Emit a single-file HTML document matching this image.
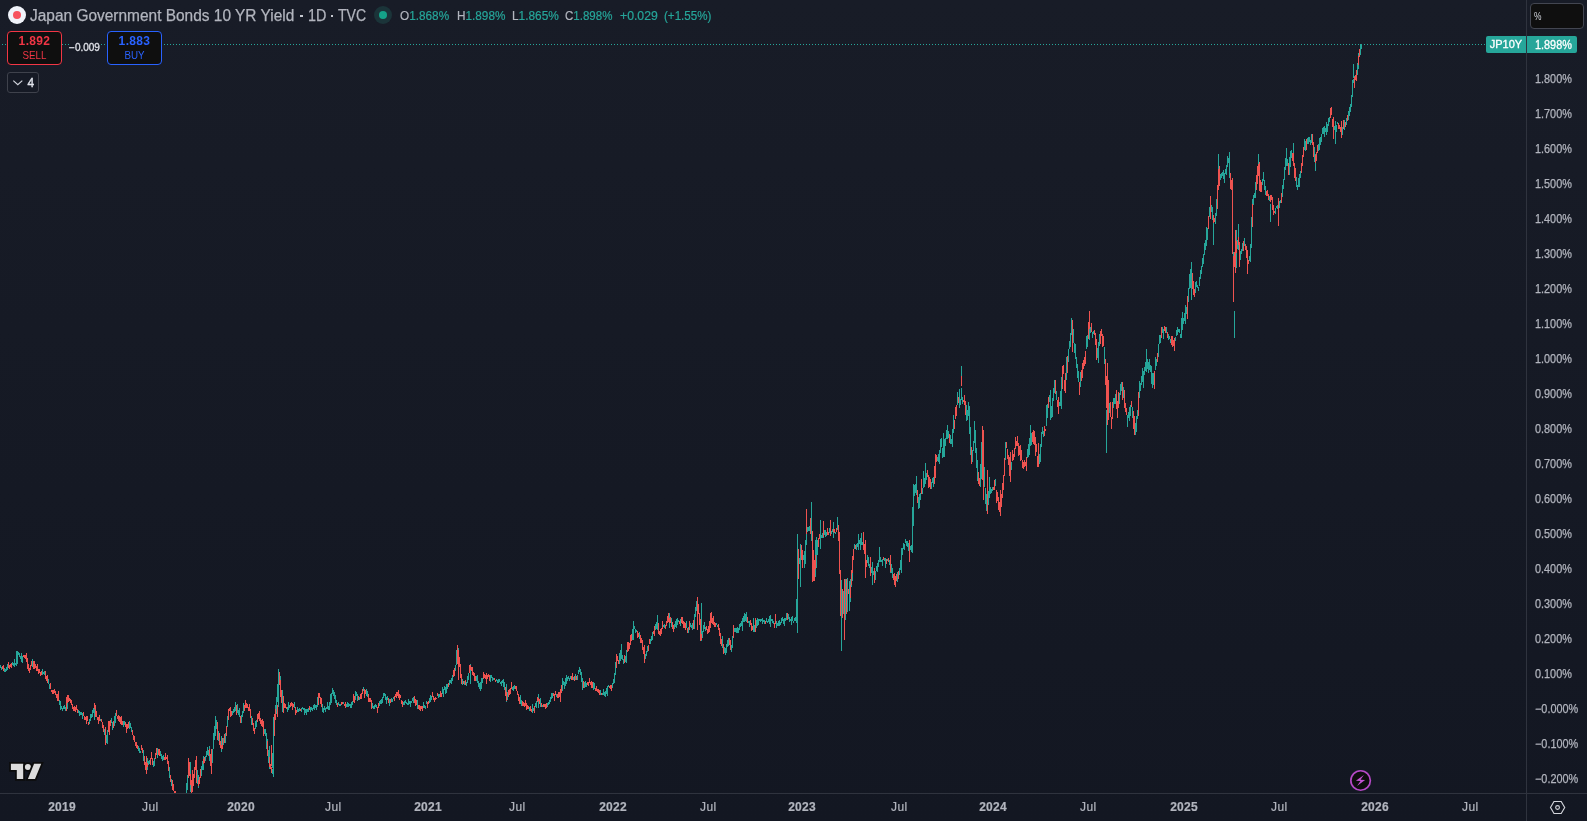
<!DOCTYPE html>
<html><head><meta charset="utf-8"><title>JP10Y</title>
<style>
body{-webkit-font-smoothing:antialiased}
*{box-sizing:border-box;margin:0;padding:0}
html,body{width:1587px;height:821px;overflow:hidden;background:#131722}
body{font-family:"Liberation Sans",sans-serif;color:#b2b5be;position:relative;
 background:linear-gradient(180deg,#181c27 0px,#131722 821px)}
.abs{position:absolute}
.ui{position:absolute;left:0;top:0;width:1587px;height:821px;will-change:transform}
.chart{position:absolute;left:0;top:0}
.vaxis{position:absolute;left:1526px;top:0;width:1px;height:821px;background:#2f333e}
.haxis{position:absolute;left:0;top:793px;width:1587px;height:1px;background:#2f333e}
.dot{position:absolute;left:-1px;top:44px;width:1487px;height:1px;
 background:repeating-linear-gradient(90deg,#26a69a 0 1px,transparent 1px 3px)}
.pl{-webkit-text-stroke:.25px #b2b5be;position:absolute;left:1535px;width:60px;font-size:12px;line-height:14px;color:#b2b5be;white-space:nowrap;transform:scaleX(.905);transform-origin:0 50%}
.tl{-webkit-text-stroke:.2px #b2b5be;position:absolute;top:800px;width:60px;margin-left:-30px;text-align:center;font-size:12px;line-height:14px;color:#b2b5be;white-space:nowrap}
.tl{letter-spacing:.35px}
.tl.b{font-weight:bold;letter-spacing:.25px}
.title{-webkit-text-stroke:.25px #b2b5be;position:absolute;left:30px;top:6.2px;font-size:15.6px;line-height:20px;color:#b2b5be;white-space:nowrap}
.title span{position:absolute;top:0;transform-origin:0 50%}
.title i{position:absolute;top:8.5px;width:2.7px;height:2.7px;background:#c5c8d0}
.ohlc{-webkit-text-stroke:.2px;position:absolute;left:400px;top:8px;font-size:12.5px;line-height:16px;color:#b2b5be;white-space:nowrap}
.ohlc i{font-style:normal;color:#26a69a}
.ohlc .g{position:absolute;top:0;transform-origin:0 50%}
.flag{position:absolute;left:8px;top:6px;width:18px;height:18px;border-radius:50%;background:#f0f3fa}
.flag::after{content:"";position:absolute;left:5px;top:5px;width:8px;height:8px;border-radius:50%;background:#f7525f}
.status{position:absolute;left:374px;top:6px;width:18px;height:18px;border-radius:50%;background:#1b3439}
.status::after{content:"";position:absolute;left:5px;top:5px;width:8px;height:8px;border-radius:50%;background:#14a288}
.btn{position:absolute;top:31px;height:34px;width:55px;border-radius:4px;background:#0f0f0f;text-align:center;font-size:11px;line-height:13px;padding-top:3px}
.btn b{display:block;font-size:12px;line-height:13px;letter-spacing:.35px}
.btn span{display:block;transform:scaleX(.89);margin-top:.5px}
.sell{left:7px;border:1px solid #f23645;color:#f23645}
.buy{left:107px;border:1px solid #2962ff;color:#2962ff}
.spread{position:absolute;left:69px;top:42px;width:31px;text-align:center;font-size:10px;line-height:12px;color:#dfe1e8;background:#171b26;-webkit-text-stroke:.3px #dfe1e8}
.coll{position:absolute;left:7px;top:72px;width:32px;height:21px;border:1px solid #3f424c;border-radius:3px;background:#161a25;color:#e0e3eb;font-size:12px;line-height:21px;padding-left:19.5px;-webkit-text-stroke:.35px #e0e3eb}
.unit{position:absolute;left:1530px;top:3px;width:54px;height:26px;border:1px solid #434651;border-radius:4px;background:#0f0f0f;color:#d1d4dc;font-size:10.5px;line-height:24px;padding-left:3px}
.unit span{display:inline-block;transform:scaleX(.8);transform-origin:0 50%}
.tag{-webkit-text-stroke:.3px #fff;position:absolute;top:36px;height:17px;background:#26a69a;color:#fff;font-size:12px;line-height:17px;text-align:center;white-space:nowrap}
.tag.a{left:1486px;width:40px;border-radius:2px 0 0 2px;font-size:11px}
.tag.b{left:1527px;width:50px;border-radius:0 2px 2px 0;text-align:left}
.tag.b span{position:absolute;left:8px;top:.5px;transform:scaleX(.905);transform-origin:0 50%}
</style></head><body>
<svg class="chart" width="1526" height="793" viewBox="0 0 1526 793" fill="none" stroke-width="1" shape-rendering="crispEdges"><path stroke="#26a69a" d="M0.5 665V668M1.5 667V670M4.5 668V672M5.5 669V672M6.5 667V671M7.5 664V670M12.5 662V665M13.5 663V666M14.5 659V667M15.5 663V665M16.5 651V666M17.5 653V658M18.5 652V655M19.5 653V657M20.5 656V659M21.5 653V662M22.5 656V663M32.5 659V667M42.5 669V675M43.5 672V674M44.5 671V675M48.5 679V684M49.5 684V689M59.5 700V705M60.5 701V710M61.5 706V709M62.5 708V711M63.5 706V709M64.5 705V709M65.5 707V711M78.5 710V713M79.5 711V716M80.5 712V715M81.5 712V715M82.5 713V719M89.5 719V724M90.5 714V721M91.5 714V718M92.5 710V717M93.5 708V713M100.5 719V721M104.5 729V735M105.5 731V740M106.5 735V743M107.5 730V736M111.5 718V723M112.5 722V730M114.5 716V726M115.5 713V723M123.5 721V727M124.5 721V725M129.5 721V729M130.5 723V728M131.5 727V732M138.5 746V751M139.5 748V753M140.5 751V753M143.5 750V761M148.5 761V765M149.5 760V764M153.5 761V767M154.5 758V766M157.5 748V758M160.5 751V756M161.5 754V759M162.5 756V761M163.5 755V760M169.5 767V778M171.5 779V786M186.5 783V793M187.5 775V790M188.5 762V776M192.5 782V792M197.5 770V784M201.5 766V776M202.5 761V770M205.5 756V761M206.5 751V757M207.5 747V755M208.5 750V756M211.5 762V771M212.5 749V763M213.5 733V749M214.5 726V740M215.5 717V726M216.5 720V729M217.5 725V736M218.5 731V741M223.5 738V745M225.5 733V743M227.5 716V727M232.5 711V715M233.5 709V713M234.5 707V712M235.5 702V711M237.5 704V713M238.5 710V715M239.5 708V717M241.5 715V723M242.5 711V717M243.5 703V713M251.5 716V725M255.5 721V729M256.5 720V727M264.5 729V734M265.5 729V736M266.5 733V741M267.5 739V752M268.5 750V763M272.5 769V774M273.5 719V776M276.5 697V714M277.5 684V702M278.5 671V687M282.5 694V703M287.5 707V712M288.5 702V710M289.5 705V708M294.5 702V708M297.5 707V712M298.5 709V712M299.5 708V711M301.5 708V712M302.5 707V709M303.5 708V710M304.5 708V715M305.5 709V713M306.5 709V715M307.5 709V712M308.5 708V712M310.5 707V712M311.5 707V710M312.5 708V711M313.5 705V709M314.5 704V710M315.5 705V708M316.5 705V710M317.5 697V707M322.5 704V712M323.5 708V713M324.5 706V710M325.5 708V712M326.5 707V709M327.5 702V709M328.5 706V710M329.5 702V710M330.5 694V705M331.5 693V703M332.5 688V694M333.5 690V696M334.5 692V699M335.5 695V703M336.5 700V705M338.5 702V705M339.5 704V706M340.5 704V706M343.5 702V704M346.5 704V707M347.5 702V707M348.5 703V707M349.5 704V706M350.5 704V708M351.5 702V708M352.5 701V705M355.5 691V700M356.5 692V696M357.5 694V701M359.5 697V700M363.5 687V691M366.5 689V696M367.5 691V697M372.5 703V708M373.5 706V709M374.5 705V709M375.5 704V707M376.5 705V708M379.5 701V706M380.5 700V704M381.5 699V704M382.5 697V703M383.5 693V698M384.5 693V696M385.5 694V700M386.5 697V704M387.5 696V700M389.5 699V706M391.5 698V702M392.5 699V702M393.5 697V699M403.5 702V705M404.5 701V705M405.5 700V703M406.5 702V704M407.5 703V705M408.5 699V705M409.5 701V704M410.5 701V707M411.5 701V703M412.5 698V701M413.5 697V703M417.5 700V709M423.5 702V708M424.5 705V708M425.5 706V709M426.5 701V704M429.5 698V703M430.5 695V702M431.5 696V700M438.5 694V698M439.5 694V697M442.5 687V694M443.5 689V697M444.5 686V690M445.5 687V694M446.5 684V693M447.5 684V689M449.5 680V685M450.5 680V683M451.5 678V684M452.5 675V681M455.5 665V671M456.5 650V665M457.5 649V658M458.5 648V660M462.5 679V685M464.5 681V685M466.5 682V686M467.5 676V683M468.5 673V680M476.5 676V681M477.5 675V683M478.5 681V687M479.5 683V689M480.5 682V691M481.5 678V689M482.5 678V683M490.5 675V682M491.5 675V678M492.5 677V681M493.5 678V680M496.5 679V681M497.5 680V683M498.5 679V683M499.5 679V682M500.5 682V684M501.5 681V686M502.5 680V683M503.5 679V687M504.5 682V690M507.5 692V700M512.5 687V690M513.5 686V691M514.5 685V689M520.5 695V704M521.5 700V706M529.5 707V711M532.5 704V713M533.5 708V711M535.5 703V707M536.5 701V708M540.5 698V707M542.5 705V707M547.5 703V707M548.5 702V705M549.5 700V704M550.5 697V702M551.5 693V699M552.5 693V698M556.5 694V697M562.5 678V691M563.5 681V685M564.5 682V689M565.5 678V686M566.5 675V684M567.5 677V681M568.5 676V679M569.5 678V681M570.5 676V679M573.5 677V680M575.5 674V680M577.5 675V680M578.5 670V674M579.5 667V672M580.5 669V675M581.5 672V682M582.5 678V690M584.5 682V688M585.5 681V687M586.5 683V687M593.5 682V690M594.5 683V689M600.5 690V695M602.5 693V695M603.5 689V695M604.5 692V696M605.5 691V697M606.5 688V694M607.5 686V696M608.5 685V687M612.5 683V688M613.5 679V684M614.5 673V683M615.5 662V675M619.5 653V664M620.5 650V661M621.5 644V659M622.5 655V660M623.5 659V664M625.5 656V662M626.5 650V663M632.5 629V640M633.5 626V630M634.5 626V629M635.5 629V633M636.5 630V632M639.5 632V639M645.5 654V659M646.5 651V656M647.5 646V652M650.5 639V644M651.5 636V641M652.5 632V640M655.5 624V630M656.5 622V629M657.5 623V628M663.5 625V627M664.5 624V628M671.5 618V627M674.5 624V629M675.5 621V627M676.5 619V628M677.5 618V625M678.5 620V622M680.5 619V626M686.5 621V628M688.5 627V633M690.5 623V627M691.5 625V628M692.5 623V630M694.5 614V629M695.5 607V617M696.5 601V611M697.5 600V606M702.5 631V638M703.5 625V632M704.5 622V629M705.5 627V631M716.5 623V625M717.5 625V627M722.5 636V648M724.5 647V653M725.5 648V655M726.5 644V653M727.5 640V647M728.5 638V646M731.5 645V652M732.5 636V648M734.5 628V632M735.5 628V632M736.5 628V633M737.5 627V633M738.5 628V633M739.5 624V630M740.5 623V627M741.5 621V626M742.5 618V631M743.5 616V622M744.5 613V622M745.5 614V621M746.5 612V622M748.5 621V623M749.5 621V627M753.5 618V632M754.5 625V632M755.5 626V629M756.5 620V628M757.5 618V626M758.5 619V625M759.5 619V621M760.5 619V622M761.5 619V621M762.5 618V624M763.5 620V622M764.5 620V624M766.5 618V622M767.5 621V623M768.5 619V622M769.5 616V624M770.5 615V627M771.5 619V621M772.5 619V623M773.5 621V624M776.5 621V628M777.5 623V626M778.5 621V626M779.5 620V626M780.5 622V625M781.5 618V623M782.5 617V621M783.5 619V624M784.5 618V626M785.5 618V621M786.5 613V620M788.5 614V619M789.5 617V622M790.5 619V621M791.5 617V625M792.5 616V621M793.5 621V623M794.5 618V621M795.5 617V621M796.5 599V623M797.5 568V599M798.5 559V571M799.5 558V564M800.5 551V561M801.5 552V559M802.5 553V558M803.5 555V560M804.5 551V559M805.5 540V557M806.5 526V545M807.5 527V532M808.5 527V531M809.5 526V531M811.5 523V541M812.5 536V565M816.5 545V560M817.5 540V555M820.5 534V537M821.5 535V538M822.5 533V538M823.5 531V538M824.5 530V535M825.5 530V537M826.5 532V536M829.5 528V533M830.5 528V535M831.5 531V534M832.5 529V532M835.5 532V534M837.5 517V530M841.5 600V611M843.5 600V604M845.5 598V606M847.5 594V599M849.5 591V598M854.5 544V549M856.5 544V550M857.5 543V547M858.5 540V546M859.5 540V544M860.5 538V550M861.5 533V545M862.5 542V545M863.5 539V544M867.5 555V563M868.5 557V566M869.5 564V568M870.5 563V570M871.5 567V573M872.5 573V580M873.5 571V575M874.5 571V581M875.5 571V580M876.5 566V571M877.5 563V572M878.5 560V567M879.5 553V562M880.5 557V562M881.5 560V562M882.5 559V566M884.5 558V561M885.5 558V568M887.5 559V561M889.5 560V565M890.5 563V573M891.5 564V573M892.5 568V578M897.5 572V582M899.5 568V575M900.5 560V570M901.5 550V563M902.5 548V555M903.5 543V549M904.5 544V550M905.5 539V543M906.5 541V546M907.5 541V547M908.5 543V551M909.5 548V552M910.5 546V550M911.5 545V552M912.5 519V553M913.5 484V526M914.5 485V496M915.5 484V493M916.5 476V495M918.5 497V509M919.5 494V508M920.5 493V500M922.5 488V494M923.5 471V488M924.5 478V487M925.5 463V484M926.5 473V480M931.5 482V489M932.5 478V483M933.5 477V487M937.5 457V461M938.5 454V462M939.5 450V464M940.5 439V453M941.5 438V447M942.5 448V458M943.5 433V457M944.5 439V457M945.5 438V446M946.5 430V439M947.5 425V439M948.5 431V438M950.5 435V444M951.5 439V444M952.5 429V447M953.5 415V433M957.5 392V405M959.5 389V408M960.5 399V405M961.5 388V400M962.5 397V404M966.5 405V421M967.5 410V420M968.5 402V416M969.5 406V434M970.5 427V455M972.5 450V462M973.5 441V451M974.5 421V443M975.5 430V453M976.5 448V468M977.5 460V481M980.5 464V487M981.5 442V479M982.5 441V458M983.5 446V483M984.5 467V487M985.5 488V504M986.5 494V511M988.5 491V505M989.5 477V498M990.5 487V494M991.5 489V493M992.5 487V491M995.5 479V486M1005.5 442V460M1011.5 462V470M1027.5 449V458M1028.5 444V457M1029.5 438V455M1030.5 425V446M1031.5 433V445M1039.5 454V464M1040.5 444V462M1041.5 432V447M1042.5 427V434M1043.5 431V437M1046.5 405V426M1047.5 404V418M1049.5 395V402M1050.5 390V420M1051.5 406V418M1052.5 398V417M1053.5 388V401M1054.5 380V393M1056.5 391V400M1059.5 402V406M1060.5 391V406M1061.5 377V409M1066.5 357V380M1068.5 349V362M1069.5 341V349M1070.5 333V347M1071.5 318V335M1073.5 329V343M1074.5 343V353M1075.5 344V359M1076.5 357V368M1077.5 364V378M1078.5 371V382M1080.5 372V387M1086.5 336V349M1087.5 335V347M1090.5 327V333M1092.5 332V338M1093.5 331V334M1097.5 348V358M1098.5 342V363M1099.5 334V346M1104.5 347V364M1108.5 398V411M1109.5 403V413M1113.5 398V408M1114.5 398V404M1115.5 394V404M1119.5 393V404M1120.5 384V395M1121.5 382V391M1123.5 387V398M1127.5 415V427M1128.5 412V418M1129.5 407V421M1130.5 405V416M1132.5 407V418M1135.5 423V435M1136.5 416V432M1137.5 410V419M1139.5 381V398M1140.5 383V391M1141.5 376V385M1142.5 368V382M1143.5 371V388M1144.5 367V375M1145.5 362V371M1146.5 349V372M1147.5 359V369M1148.5 362V373M1149.5 359V370M1150.5 365V372M1151.5 366V384M1152.5 373V388M1153.5 373V385M1155.5 357V370M1156.5 359V366M1158.5 344V357M1159.5 335V344M1160.5 335V343M1162.5 327V333M1163.5 329V339M1166.5 327V333M1168.5 334V340M1169.5 336V339M1170.5 339V343M1175.5 337V341M1176.5 330V336M1177.5 327V335M1178.5 329V332M1179.5 329V333M1180.5 334V338M1181.5 318V338M1182.5 312V330M1183.5 318V324M1184.5 313V321M1185.5 305V324M1186.5 307V314M1188.5 288V302M1189.5 274V289M1190.5 269V288M1191.5 262V273M1195.5 282V293M1196.5 281V287M1197.5 285V288M1198.5 287V291M1199.5 277V286M1200.5 270V279M1201.5 266V274M1202.5 258V267M1203.5 254V264M1204.5 243V255M1205.5 240V250M1206.5 227V246M1207.5 228V240M1209.5 207V217M1210.5 207V211M1211.5 205V212M1212.5 207V220M1215.5 213V224M1216.5 199V216M1220.5 174V180M1221.5 173V178M1222.5 172V176M1223.5 170V179M1224.5 173V183M1225.5 169V174M1226.5 165V175M1227.5 156V167M1228.5 158V163M1229.5 161V178M1233.5 252V272M1237.5 240V249M1240.5 251V260M1241.5 249V254M1242.5 243V251M1244.5 238V246M1249.5 256V261M1250.5 244V262M1251.5 217V248M1253.5 195V205M1254.5 193V198M1255.5 182V198M1262.5 179V185M1263.5 172V181M1264.5 180V190M1265.5 186V195M1269.5 196V201M1275.5 208V214M1276.5 206V208M1277.5 205V209M1278.5 202V208M1279.5 201V208M1280.5 200V203M1282.5 185V197M1283.5 179V189M1284.5 167V180M1285.5 158V170M1286.5 156V164M1287.5 159V166M1289.5 157V175M1290.5 151V167M1291.5 150V158M1296.5 177V187M1297.5 185V190M1298.5 178V187M1299.5 174V187M1300.5 171V178M1304.5 139V150M1305.5 141V151M1307.5 138V144M1308.5 137V144M1309.5 137V142M1310.5 140V145M1311.5 134V143M1314.5 147V162M1318.5 144V151M1319.5 138V150M1320.5 137V145M1321.5 134V142M1322.5 128V134M1323.5 127V134M1324.5 126V137M1325.5 128V132M1326.5 122V135M1327.5 124V132M1328.5 118V126M1329.5 117V122M1334.5 126V130M1335.5 121V132M1336.5 125V132M1337.5 122V124M1342.5 127V135M1344.5 120V130M1346.5 118V125M1348.5 111V120M1349.5 107V116M1350.5 104V112M1351.5 95V107M1352.5 80V97M1353.5 79V83M1354.5 76V82M1356.5 77V80M1357.5 63V75M1359.5 49V56M1360.5 46V55M1361.5 45V49M17.5 651V664M67.5 695V709M94.5 705V720M470.5 664V684M506.5 684V702M538.5 694V708M701.5 603V641M961.5 366V376M1089.5 320V340M1106.5 410V453M1191.5 265V300M633.5 621V640M657.5 615V630M669.5 613V628M797.5 534V633M800.5 544V587M804.5 552V568M805.5 541V564M811.5 502V534M815.5 540V577M816.5 537V568M820.5 520V549M833.5 522V538M841.5 580V651M843.5 591V614M845.5 579V620M847.5 578V612M849.5 581V611M850.5 579V602M851.5 574V587M852.5 556V581M858.5 534V550M872.5 562V585M879.5 547V562M901.5 548V573M912.5 507V536M1213.5 217V245M1218.5 154V187M1229.5 152V169M1234.5 311V338M1236.5 230V268M1238.5 224V250M1252.5 199V226M1258.5 154V171M1270.5 204V222M1286.5 148V166M1293.5 143V166M1335.5 121V144M1353.5 64V78M1315.5 154V171M1360.5 44V50M1358.5 53V69M266.5 738V749M269.5 746V769M272.5 753V768M273.5 717V777M275.5 705V719M278.5 669V707M280.5 676V697M282.5 690V712M215.5 716V736M221.5 736V752M190.5 762V792M198.5 775V788M203.5 756V770M209.5 746V761M107.5 732V744M147.5 758V770"/><path stroke="#ef5350" d="M2.5 666V669M3.5 665V671M8.5 662V668M9.5 665V669M10.5 664V667M11.5 663V668M23.5 655V657M24.5 655V658M25.5 655V659M26.5 653V662M27.5 658V669M28.5 664V671M29.5 668V673M30.5 665V670M31.5 661V666M33.5 661V669M34.5 661V669M35.5 664V668M36.5 666V671M37.5 664V671M38.5 669V674M39.5 669V673M40.5 672V676M41.5 671V675M45.5 671V679M46.5 676V681M47.5 675V683M50.5 683V689M51.5 690V692M52.5 690V694M53.5 690V694M54.5 689V693M55.5 691V695M56.5 694V698M57.5 694V701M58.5 691V701M66.5 697V711M67.5 695V703M68.5 695V702M69.5 698V701M70.5 699V703M71.5 700V705M72.5 704V709M73.5 707V711M74.5 706V711M75.5 707V712M76.5 705V710M77.5 709V713M83.5 712V716M84.5 716V720M85.5 717V720M86.5 716V724M87.5 716V721M88.5 722V725M94.5 703V709M95.5 705V717M96.5 711V717M97.5 717V720M98.5 717V724M99.5 715V721M101.5 719V722M102.5 722V728M103.5 725V732M108.5 721V732M109.5 721V735M110.5 720V726M113.5 721V728M116.5 710V716M117.5 716V719M118.5 715V721M119.5 716V722M120.5 717V724M121.5 716V725M122.5 721V725M125.5 722V727M126.5 724V733M127.5 724V729M128.5 722V728M132.5 730V735M133.5 735V740M134.5 736V742M135.5 742V746M136.5 742V748M137.5 745V749M141.5 745V750M142.5 748V753M144.5 756V765M145.5 762V770M146.5 765V771M147.5 763V767M150.5 758V765M151.5 752V759M152.5 758V765M155.5 753V759M156.5 748V755M158.5 749V755M159.5 749V756M164.5 757V760M165.5 753V760M166.5 757V759M167.5 755V764M168.5 761V771M170.5 775V782M172.5 780V790M173.5 784V791M174.5 791V793M175.5 791V793M189.5 762V776M190.5 774V785M191.5 780V793M193.5 774V786M194.5 767V778M195.5 760V770M196.5 759V772M198.5 780V786M199.5 777V784M200.5 769V778M203.5 759V764M204.5 757V763M209.5 749V756M210.5 754V766M219.5 736V745M220.5 741V748M221.5 745V749M222.5 742V748M224.5 734V743M226.5 726V736M228.5 709V720M229.5 708V711M230.5 707V717M231.5 711V716M236.5 705V715M240.5 716V723M244.5 705V711M245.5 700V708M246.5 703V708M247.5 704V708M248.5 707V711M249.5 704V711M250.5 709V718M252.5 718V725M253.5 723V731M254.5 728V734M257.5 714V722M258.5 713V719M259.5 711V721M260.5 718V724M261.5 720V726M262.5 719V727M263.5 721V736M269.5 757V767M270.5 764V769M271.5 767V773M274.5 714V722M275.5 709V720M279.5 672V685M280.5 680V697M281.5 690V703M283.5 701V707M284.5 703V708M285.5 704V708M286.5 707V709M290.5 703V707M291.5 702V706M292.5 703V710M293.5 704V707M295.5 707V715M296.5 710V713M300.5 709V711M309.5 706V710M318.5 693V705M319.5 693V698M320.5 697V704M321.5 698V707M337.5 703V707M341.5 702V705M342.5 702V704M344.5 704V706M345.5 702V708M353.5 694V702M354.5 696V703M358.5 696V700M360.5 694V699M361.5 693V699M362.5 689V694M364.5 689V698M365.5 690V694M368.5 694V702M369.5 698V702M370.5 698V702M371.5 700V709M377.5 707V713M378.5 703V708M388.5 698V703M390.5 699V703M394.5 696V701M395.5 694V697M396.5 692V698M397.5 692V696M398.5 690V698M399.5 694V700M400.5 695V698M401.5 700V704M402.5 701V707M414.5 696V703M415.5 699V706M416.5 700V705M418.5 705V709M419.5 705V710M420.5 706V711M421.5 706V709M422.5 706V711M427.5 702V708M428.5 701V704M432.5 692V697M433.5 696V700M434.5 698V702M435.5 697V700M436.5 698V699M437.5 693V696M440.5 691V697M441.5 693V697M448.5 683V687M453.5 670V677M454.5 668V676M459.5 657V667M460.5 664V678M461.5 674V684M463.5 681V684M465.5 680V685M469.5 665V673M470.5 665V670M471.5 667V671M472.5 667V675M473.5 672V676M474.5 673V681M475.5 676V681M483.5 672V679M484.5 674V678M485.5 675V679M486.5 673V684M487.5 675V679M488.5 674V677M489.5 675V681M494.5 678V680M495.5 680V682M505.5 687V696M506.5 692V701M508.5 690V697M509.5 689V695M510.5 688V694M511.5 682V689M515.5 686V689M516.5 686V691M517.5 691V695M518.5 694V701M519.5 697V704M522.5 701V706M523.5 702V706M524.5 703V707M525.5 700V706M526.5 703V710M527.5 705V709M528.5 706V709M530.5 706V711M531.5 709V712M534.5 706V713M537.5 697V702M538.5 698V701M539.5 699V704M541.5 703V707M543.5 704V707M544.5 704V707M545.5 704V709M546.5 703V708M553.5 693V696M554.5 694V701M555.5 691V695M557.5 694V698M558.5 692V698M559.5 692V697M560.5 689V702M561.5 685V693M571.5 676V680M572.5 673V680M574.5 676V681M576.5 676V680M583.5 681V688M587.5 682V685M588.5 682V686M589.5 678V683M590.5 682V685M591.5 681V688M592.5 682V688M595.5 688V691M596.5 686V691M597.5 689V692M598.5 689V693M599.5 690V695M601.5 693V695M609.5 686V688M610.5 685V689M611.5 685V691M616.5 654V668M617.5 656V661M618.5 660V664M624.5 655V663M627.5 642V652M628.5 642V651M629.5 643V649M630.5 635V645M631.5 634V641M637.5 631V638M638.5 633V637M640.5 635V643M641.5 638V643M642.5 640V650M643.5 647V654M644.5 651V657M648.5 645V651M649.5 639V644M653.5 631V634M654.5 626V636M658.5 623V634M659.5 631V635M660.5 629V636M661.5 628V634M662.5 621V629M665.5 625V629M666.5 621V626M667.5 616V623M668.5 613V622M669.5 618V623M670.5 617V623M672.5 622V629M673.5 625V632M679.5 621V624M681.5 617V623M682.5 617V624M683.5 621V628M684.5 622V628M685.5 623V630M687.5 628V633M689.5 621V630M693.5 620V629M698.5 604V614M699.5 613V625M700.5 619V641M701.5 634V640M706.5 626V630M707.5 629V634M708.5 626V633M709.5 621V632M710.5 613V624M711.5 612V623M712.5 618V624M713.5 616V625M714.5 622V627M715.5 623V627M718.5 624V630M719.5 628V636M720.5 633V644M721.5 639V646M723.5 644V654M729.5 638V645M730.5 640V650M733.5 625V638M747.5 617V623M750.5 620V625M751.5 623V631M752.5 626V630M765.5 621V624M774.5 623V628M775.5 614V624M787.5 613V620M810.5 524V528M813.5 552V568M814.5 564V573M815.5 555V569M818.5 538V547M819.5 534V539M827.5 528V535M828.5 532V535M833.5 529V532M834.5 529V533M836.5 528V532M838.5 525V541M839.5 538V574M840.5 570V601M842.5 602V606M844.5 601V606M846.5 595V599M848.5 589V594M850.5 585V598M851.5 570V585M852.5 556V573M853.5 549V560M855.5 545V549M864.5 544V554M865.5 553V565M866.5 560V567M883.5 557V560M886.5 559V564M888.5 558V562M893.5 574V580M894.5 573V585M895.5 576V581M896.5 574V581M898.5 571V579M917.5 490V503M921.5 479V494M927.5 470V477M928.5 475V488M929.5 477V487M930.5 479V489M934.5 466V484M935.5 454V478M936.5 455V462M949.5 434V443M954.5 420V429M955.5 407V419M956.5 405V416M958.5 397V403M963.5 400V402M964.5 395V405M965.5 401V415M971.5 447V464M978.5 472V484M979.5 478V486M987.5 501V511M993.5 487V490M994.5 480V490M996.5 490V503M997.5 492V501M998.5 497V510M999.5 502V512M1000.5 502V510M1001.5 494V507M1002.5 483V498M1003.5 475V490M1004.5 458V476M1006.5 442V448M1007.5 449V459M1008.5 455V465M1009.5 457V476M1010.5 464V473M1012.5 450V461M1013.5 454V460M1014.5 448V457M1015.5 437V449M1016.5 441V446M1017.5 436V446M1018.5 443V456M1019.5 446V455M1020.5 445V461M1021.5 450V460M1022.5 460V468M1023.5 462V469M1024.5 460V467M1025.5 462V466M1026.5 457V471M1032.5 432V442M1033.5 430V444M1034.5 431V445M1035.5 437V456M1036.5 444V452M1037.5 456V467M1038.5 443V467M1044.5 426V436M1045.5 429V431M1048.5 397V408M1055.5 380V394M1057.5 400V407M1058.5 397V414M1062.5 366V389M1063.5 365V374M1064.5 380V391M1065.5 373V393M1067.5 356V373M1072.5 320V336M1079.5 382V395M1081.5 370V381M1082.5 363V378M1083.5 360V369M1084.5 357V366M1085.5 351V364M1088.5 322V339M1089.5 311V329M1091.5 323V332M1094.5 330V335M1095.5 333V345M1096.5 339V360M1100.5 331V344M1101.5 329V336M1102.5 334V347M1103.5 336V346M1105.5 359V385M1106.5 376V408M1107.5 397V402M1110.5 402V417M1111.5 417V429M1112.5 402V419M1116.5 390V409M1117.5 401V418M1118.5 392V408M1122.5 382V400M1124.5 390V408M1125.5 403V412M1126.5 408V415M1131.5 401V407M1133.5 411V429M1134.5 416V435M1138.5 392V416M1154.5 371V389M1157.5 353V362M1161.5 327V338M1164.5 326V331M1165.5 327V333M1167.5 332V338M1171.5 336V345M1172.5 336V347M1173.5 340V346M1174.5 338V351M1187.5 296V319M1192.5 273V289M1193.5 281V295M1194.5 289V297M1208.5 216V229M1213.5 215V223M1214.5 218V222M1217.5 185V209M1218.5 169V190M1219.5 173V180M1230.5 175V185M1231.5 180V190M1232.5 183V254M1234.5 252V267M1235.5 247V257M1236.5 241V253M1238.5 237V245M1239.5 244V258M1243.5 241V251M1245.5 244V250M1246.5 246V258M1247.5 252V262M1248.5 260V264M1252.5 204V227M1256.5 175V190M1257.5 166V184M1258.5 164V176M1259.5 168V182M1260.5 180V192M1261.5 182V192M1266.5 191V196M1267.5 190V196M1268.5 194V200M1270.5 195V202M1271.5 195V200M1272.5 197V210M1273.5 205V215M1274.5 211V213M1281.5 193V203M1288.5 163V175M1292.5 153V161M1293.5 153V166M1294.5 163V178M1295.5 168V181M1301.5 163V173M1302.5 155V166M1303.5 147V157M1306.5 139V150M1312.5 134V145M1313.5 142V157M1315.5 155V163M1316.5 152V161M1317.5 145V153M1330.5 108V118M1331.5 107V115M1332.5 119V127M1333.5 120V139M1338.5 123V129M1339.5 125V129M1340.5 127V132M1341.5 124V130M1343.5 120V129M1345.5 122V127M1347.5 115V121M1355.5 75V80M1358.5 56V65M457.5 645V664M458.5 650V680M697.5 597V630M710.5 613V628M755.5 618V632M961.5 376V386M982.5 426V480M983.5 430V500M987.5 470V514M1000.5 490V516M1010.5 452V482M1072.5 321V352M1107.5 363V425M1108.5 380V420M644.5 645V663M798.5 549V579M801.5 545V560M802.5 550V568M806.5 509V534M810.5 518V534M812.5 531V582M813.5 550V581M814.5 560V581M823.5 521V537M830.5 520V536M839.5 532V574M840.5 580V616M842.5 589V618M844.5 579V640M846.5 579V614M863.5 532V550M865.5 540V578M870.5 557V576M874.5 568V583M890.5 555V572M895.5 577V587M909.5 540V562M1210.5 196V219M1219.5 166V186M1230.5 173V189M1232.5 178V196M1232.5 221V252M1233.5 256V302M1235.5 230V273M1239.5 242V267M1247.5 250V274M1259.5 162V191M1278.5 198V226M1341.5 121V138M1333.5 117V133M1354.5 77V88M1356.5 70V81M1359.5 49V57M267.5 741V756M271.5 745V766M274.5 719V736M277.5 705V717M283.5 696V713M217.5 722V740M219.5 733V744M222.5 738V749M188.5 758V778M192.5 770V792M196.5 756V783M211.5 749V774M105.5 727V745M146.5 756V774"/><path stroke="#9a8f8f" d=""/></svg>
<div class="ui"><div class="dot"></div>
<div class="vaxis"></div><div class="haxis"></div>
<div class="flag"></div>
<div class="title"><span class="t1" style="transform:scaleX(.991)">Japan Government Bonds 10 YR Yield</span><span class="t2" style="left:278px;transform:scaleX(.923)">1D</span><span class="t2" style="left:308px;transform:scaleX(.903)">TVC</span><i style="left:270.3px"></i><i style="left:300.7px"></i></div>
<div class="status"></div>
<div class="ohlc"><span class="g" style="left:0.3px;transform:scaleX(0.942)">O<i>1.868%</i></span><span class="g" style="left:56.5px;transform:scaleX(0.941)">H<i>1.898%</i></span><span class="g" style="left:111.7px;transform:scaleX(0.950)">L<i>1.865%</i></span><span class="g" style="left:165.4px;transform:scaleX(0.921)">C<i>1.898%</i></span><span class="g" style="left:219.6px;transform:scaleX(0.980)"><i>+0.029</i></span><span class="g" style="left:263.7px;transform:scaleX(0.928)"><i>(+1.55%)</i></span></div>
<div class="btn sell"><b>1.892</b><span>SELL</span></div>
<div class="spread">−0.009</div>
<div class="btn buy"><b>1.883</b><span>BUY</span></div>
<div class="coll">4<svg class="abs" style="left:4px;top:5px" width="12" height="9" viewBox="0 0 12 9"><path d="M1.3 2.6L5.8 6.6L10.3 2.6" fill="none" stroke="#d1d4dc" stroke-width="1.2"/></svg></div>
<div class="unit"><span>%</span></div>
<div class="tag a">JP10Y</div><div class="tag b"><span>1.898%</span></div>
<div class="pl" style="top:72px;left:1535px">1.800%</div>
<div class="pl" style="top:107px;left:1535px">1.700%</div>
<div class="pl" style="top:142px;left:1535px">1.600%</div>
<div class="pl" style="top:177px;left:1535px">1.500%</div>
<div class="pl" style="top:212px;left:1535px">1.400%</div>
<div class="pl" style="top:247px;left:1535px">1.300%</div>
<div class="pl" style="top:282px;left:1535px">1.200%</div>
<div class="pl" style="top:317px;left:1535px">1.100%</div>
<div class="pl" style="top:352px;left:1535px">1.000%</div>
<div class="pl" style="top:387px;left:1535px">0.900%</div>
<div class="pl" style="top:422px;left:1535px">0.800%</div>
<div class="pl" style="top:457px;left:1535px">0.700%</div>
<div class="pl" style="top:492px;left:1535px">0.600%</div>
<div class="pl" style="top:527px;left:1535px">0.500%</div>
<div class="pl" style="top:562px;left:1535px">0.400%</div>
<div class="pl" style="top:597px;left:1535px">0.300%</div>
<div class="pl" style="top:632px;left:1535px">0.200%</div>
<div class="pl" style="top:667px;left:1535px">0.100%</div>
<div class="pl" style="top:702px;left:1535px">−0.000%</div>
<div class="pl" style="top:737px;left:1535px">−0.100%</div>
<div class="pl" style="top:772px;left:1535px">−0.200%</div>
<div class="tl b" style="left:62px">2019</div>
<div class="tl" style="left:150.3px">Jul</div>
<div class="tl b" style="left:241px">2020</div>
<div class="tl" style="left:333.3px">Jul</div>
<div class="tl b" style="left:428px">2021</div>
<div class="tl" style="left:517.3px">Jul</div>
<div class="tl b" style="left:613px">2022</div>
<div class="tl" style="left:708.3px">Jul</div>
<div class="tl b" style="left:802px">2023</div>
<div class="tl" style="left:899.3px">Jul</div>
<div class="tl b" style="left:993px">2024</div>
<div class="tl" style="left:1088.3px">Jul</div>
<div class="tl b" style="left:1184px">2025</div>
<div class="tl" style="left:1279.3px">Jul</div>
<div class="tl b" style="left:1375px">2026</div>
<div class="tl" style="left:1470.3px">Jul</div>
<svg class="abs" style="left:0;top:755px" width="60" height="35" viewBox="0 0 60 35"><g fill="#dcdcdc" stroke="#0c0c0c" stroke-width="3.5" stroke-linejoin="miter" paint-order="stroke"><path d="M10.9 8.7H23.2V24.1H16.8V14.9H10.9Z"/><circle cx="27.9" cy="11.9" r="3"/><path d="M34.1 8.7H41.2L35 24.1H27.9Z"/></g></svg>
<svg class="abs" style="left:1349px;top:769px" width="23" height="23" viewBox="0 0 23 23"><circle cx="11.6" cy="11.5" r="9.75" fill="#0e0d0e" stroke="#b549c6" stroke-width="1.7"/><path d="M14.9 5.9L6.9 11.8L11.5 12L8 17.1L16.1 11L11.5 10.8Z" fill="#c653d8"/></svg>
<svg class="abs" style="left:1537px;top:793px" width="40" height="28" viewBox="0 0 40 28"><path d="M13.5 14.5L17 8.5H24.2L27.7 14.5L24.2 20.5H17Z" fill="none" stroke="#d4d6dc" stroke-width="1.15" stroke-linejoin="miter"/><circle cx="20.55" cy="14.5" r="1.9" fill="none" stroke="#d4d6dc" stroke-width="1.1"/></svg>
</div></body></html>
